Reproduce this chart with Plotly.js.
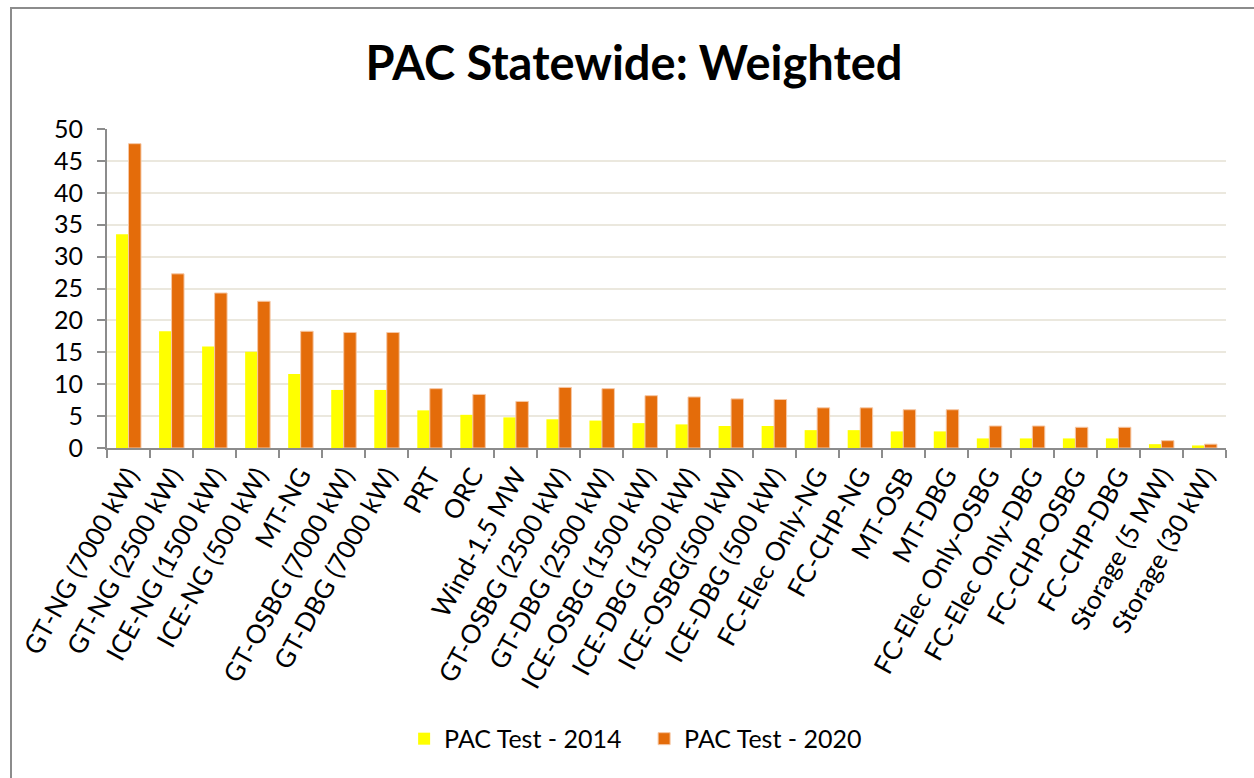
<!DOCTYPE html>
<html>
<head>
<meta charset="utf-8">
<script src="https://cdn.plot.ly/plotly-3.0.1.min.js"></script>
<style>
  html, body { margin: 0; padding: 0; background: #ffffff; }
  #wrap { position: relative; width: 1254px; height: 778px; overflow: hidden; }
  #chart { position: absolute; left: 0; top: 0; width: 1254px; height: 778px; }
  #frame { position: absolute; left: 10px; top: 7px; width: 1300px; height: 800px;
           border: 2px solid #8c8c8c; pointer-events: none; }
</style>
</head>
<body>
<div id="wrap">
  <div id="chart"></div>
  <div id="frame"></div>
</div>
<script>
const categories = [
  "GT-NG (7000 kW)", "GT-NG (2500 kW)", "ICE-NG (1500 kW)", "ICE-NG (500 kW)", "MT-NG",
  "GT-OSBG (7000 kW)", "GT-DBG (7000 kW)", "PRT", "ORC", "Wind-1.5 MW",
  "GT-OSBG (2500 kW)", "GT-DBG (2500 kW)", "ICE-OSBG (1500 kW)", "ICE-DBG (1500 kW)",
  "ICE-OSBG(500 kW)", "ICE-DBG (500 kW)", "FC-Elec Only-NG", "FC-CHP-NG", "MT-OSB", "MT-DBG",
  "FC-Elec Only-OSBG", "FC-Elec Only-DBG", "FC-CHP-OSBG", "FC-CHP-DBG",
  "Storage (5 MW)", "Storage (30 kW)"
];
const pac2014 = [33.5, 18.3, 15.9, 15.1, 11.6, 9.1, 9.1, 5.9, 5.2, 4.8,
                 4.5, 4.3, 3.9, 3.7, 3.45, 3.45, 2.8, 2.8, 2.6, 2.6,
                 1.5, 1.5, 1.5, 1.5, 0.6, 0.4];
const pac2020 = [47.7, 27.3, 24.3, 23.0, 18.3, 18.1, 18.1, 9.3, 8.4, 7.3,
                 9.5, 9.3, 8.2, 8.0, 7.7, 7.6, 6.3, 6.3, 6.0, 6.0,
                 3.45, 3.45, 3.25, 3.25, 1.15, 0.6];
const seriesNames = ["PAC Test - 2014", "PAC Test - 2020"];
const yTicks = [0, 5, 10, 15, 20, 25, 30, 35, 40, 45, 50];

const FONT = "Lato, 'Open Sans', sans-serif";

const traces = [
  {
    type: "bar", name: seriesNames[0], x: categories, y: pac2014,
    marker: { color: "#ffff00", line: { width: 0 } },
    hoverinfo: "x+y"
  },
  {
    type: "bar", name: seriesNames[1], x: categories, y: pac2020,
    marker: { color: "#e46c0a", line: { color: "#f6c8a6", width: 1 } },
    hoverinfo: "x+y"
  }
];

const layout = {
  width: 1254, height: 778,
  paper_bgcolor: "rgba(0,0,0,0)", plot_bgcolor: "#ffffff",
  margin: { l: 107, r: 28, t: 129, b: 330, autoexpand: false },
  font: { family: FONT, color: "#000000", size: 24 },
  title: {
    text: "<b>PAC Statewide: Weighted</b>",
    font: { family: FONT, size: 47, color: "#000000" },
    xref: "container", x: 0.5056, xanchor: "center",
    yref: "container", y: 0.918, yanchor: "middle"
  },
  barmode: "group", bargap: 0.42, bargroupgap: 0,
  xaxis: {
    type: "category", automargin: false,
    tickangle: -61, tickfont: { family: FONT, size: 26, color: "#000000" },
    ticks: "outside", ticklen: 8, tickwidth: 2, tickcolor: "#8c8c8c",
    tickson: "boundaries",
    showline: true, linecolor: "#8c8c8c", linewidth: 2,
    showgrid: false, zeroline: false
  },
  yaxis: {
    range: [0, 50], automargin: false,
    tickmode: "array", tickvals: yTicks, ticktext: yTicks.map(String),
    tickfont: { family: FONT, size: 25, color: "#000000" },
    ticks: "outside", ticklen: 8, tickwidth: 2, tickcolor: "#8c8c8c",
    ticklabelstandoff: 9,
    showline: true, linecolor: "#8c8c8c", linewidth: 2,
    showgrid: true, gridcolor: "#ebe8de", gridwidth: 2,
    zeroline: false
  },
  showlegend: true,
  legend: {
    orientation: "h", x: 0.480, xanchor: "center",
    y: -0.912, yanchor: "middle",
    font: { family: FONT, size: 25, color: "#000000" },
    bgcolor: "rgba(0,0,0,0)", itemwidth: 30, tracegroupgap: 0,
    entrywidth: 195
  }
};

Plotly.newPlot("chart", traces, layout, { displayModeBar: false, staticPlot: true });
</script>
</body>
</html>
